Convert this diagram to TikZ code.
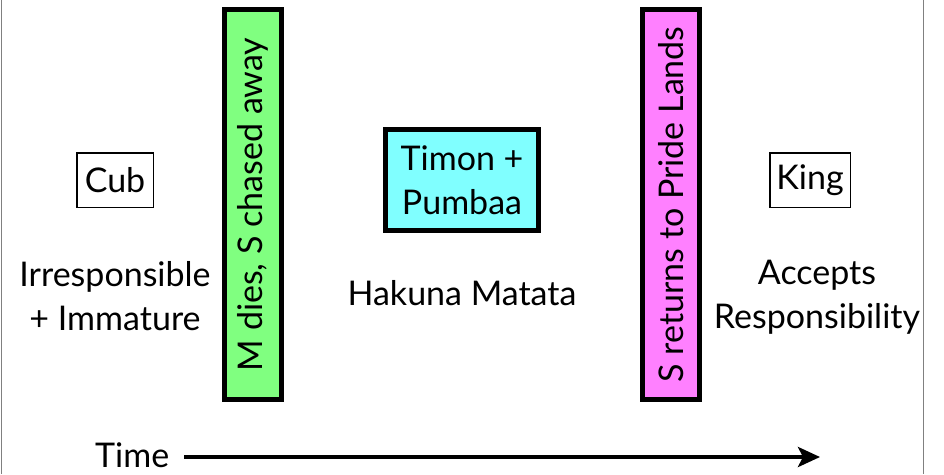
\documentclass[tikz,border=0pt]{standalone}
\usepackage{fontspec}
\setmainfont{Lato}
\usetikzlibrary{arrows.meta}
\definecolor{dieGreen}{RGB}{128,255,128}
\definecolor{timonCyan}{RGB}{128,255,255}
\definecolor{prideMagenta}{RGB}{255,128,255}
\tikzset{
  big/.style={font=\fontsize{34}{44}\selectfont, inner sep=0pt},
  stagebox/.style={big, draw, line width=1.5pt, align=center},
  eventbar/.style={big, draw, line width=5pt, rotate=90, minimum width=390pt, minimum height=57pt},
  frameline/.style={draw=gray, line width=1pt}
}
\begin{document}
\begin{tikzpicture}[x=1pt,y=-1pt]
\useasboundingbox (0,0) rectangle (944,474);
\draw[frameline] (1,0) -- (1,474);
\draw[frameline] (923,0) -- (923,474);

\node[eventbar, fill=dieGreen] (dies) at (253,204.5) {M dies, S chased away};
\node[eventbar, fill=prideMagenta] (returns) at (671,204.5) {S returns to Pride Lands};
\node[big, draw, line width=5pt, fill=timonCyan, align=center, minimum width=153pt, minimum height=101pt] (timon) at (462,180) {Timon +\\Pumbaa};

\node[stagebox, minimum width=76.5pt, minimum height=54.5pt] (cub) at (115,180) {Cub};
\node[stagebox, minimum width=80.5pt, minimum height=54.5pt] (king) at (810,180) {King};

\node[big, align=center, anchor=base] (cubtrait) at (115,330) {Irresponsible\\+ Immature};
\node[big, anchor=base] (hakuna) at (462,305) {Hakuna Matata};
\node[big, align=center, anchor=base] (kingtrait) at (817,328) {Accepts\\Responsibility};

\node[big, anchor=base west] (time) at (95,467) {Time};
\coordinate (later) at (820,457);
\draw[line width=4pt, -{Stealth[length=22pt, width=20pt, inset=5pt]}] (time.east |- later) ++(15,0) -- (later);
\end{tikzpicture}
\end{document}
